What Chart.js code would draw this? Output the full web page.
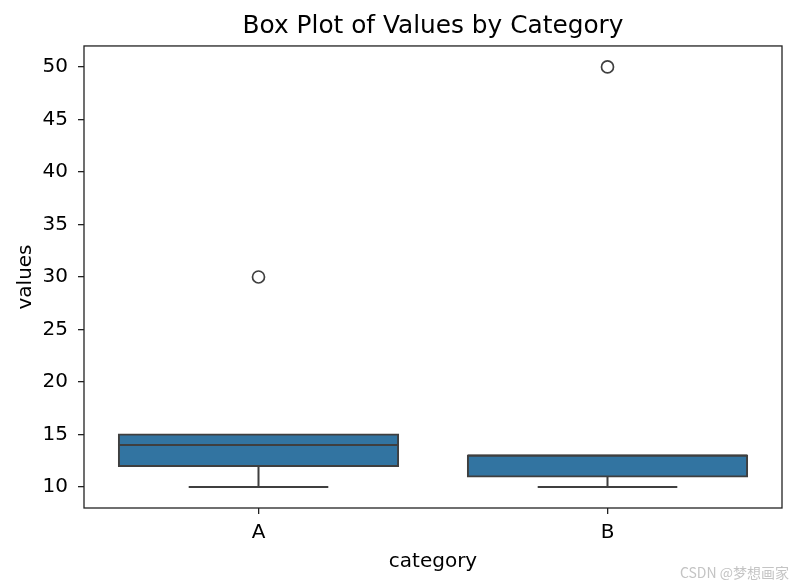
<!DOCTYPE html>
<html>
<head>
<meta charset="utf-8">
<script src="https://cdn.jsdelivr.net/npm/chart.js@4.4.0/dist/chart.umd.min.js"></script>
<style>
  body { margin: 0; background: #fff; }
  #wrap { position: relative; width: 796px; height: 586px; }
  #mark { position: absolute; right: 7px; top: 562px; font: 14px "Noto Sans CJK SC", sans-serif; color: #c4c4c4; }
</style>
</head>
<body>
<div id="wrap">
  <canvas id="boxChart" width="796" height="586"></canvas>
  <div id="mark">CSDN @梦想画家</div>
</div>
<script>
// box plot summary per category
const categories = ['A', 'B'];
const q1 = [12, 11];
const q3 = [15, 13];
const medians = [14, 13];
const whiskerLow = [10, 10];
const whiskerHigh = [15, 13];
const outliers = [{ x: 'A', y: 30 }, { x: 'B', y: 50 }];
const yTicks = [10, 15, 20, 25, 30, 35, 40, 45, 50];

const lineColor = '#3f3f3f';
const axisColor = '#222';
const fontFamily = '"DejaVu Sans", sans-serif';

// whiskers, caps and median lines, placed through the chart scales
const boxLines = {
    id: 'boxLines',
    afterDatasetsDraw(chart) {
        const ctx = chart.ctx;
        const xs = chart.scales.x;
        const ys = chart.scales.y;
        const bars = chart.getDatasetMeta(0).data;
        ctx.save();
        ctx.strokeStyle = lineColor;
        ctx.lineWidth = 2;
        categories.forEach(function(c, i) {
            const cx = xs.getPixelForValue(i);
            const half = bars[i].width / 2;
            const capHalf = half / 2;
            ctx.beginPath();
            // lower whisker
            ctx.moveTo(cx, ys.getPixelForValue(q1[i]));
            ctx.lineTo(cx, ys.getPixelForValue(whiskerLow[i]));
            ctx.moveTo(cx - capHalf, ys.getPixelForValue(whiskerLow[i]));
            ctx.lineTo(cx + capHalf, ys.getPixelForValue(whiskerLow[i]));
            // upper whisker
            if (whiskerHigh[i] > q3[i]) {
                ctx.moveTo(cx, ys.getPixelForValue(q3[i]));
                ctx.lineTo(cx, ys.getPixelForValue(whiskerHigh[i]));
                ctx.moveTo(cx - capHalf, ys.getPixelForValue(whiskerHigh[i]));
                ctx.lineTo(cx + capHalf, ys.getPixelForValue(whiskerHigh[i]));
            }
            // median
            ctx.moveTo(cx - half, ys.getPixelForValue(medians[i]));
            ctx.lineTo(cx + half, ys.getPixelForValue(medians[i]));
            ctx.stroke();
        });
        ctx.restore();
    },
    afterDraw(chart) {
        const a = chart.chartArea;
        const ctx = chart.ctx;
        ctx.save();
        ctx.strokeStyle = axisColor;
        ctx.lineWidth = 1.3;
        ctx.strokeRect(a.left, a.top, a.right - a.left, a.bottom - a.top);
        ctx.restore();
    }
};

const ctx = document.getElementById('boxChart').getContext('2d');
new Chart(ctx, {
    type: 'bar',
    data: {
        labels: categories,
        datasets: [{
            data: categories.map(function(c, i) { return [q1[i], q3[i]]; }),
            backgroundColor: '#3274a1',
            borderColor: lineColor,
            borderWidth: 2,
            borderSkipped: false,
            inflateAmount: 1,
            barPercentage: 0.8,
            categoryPercentage: 1.0
        }, {
            type: 'line',
            data: outliers,
            showLine: false,
            pointRadius: 6,
            pointBorderWidth: 1.7,
            pointBackgroundColor: 'rgba(0,0,0,0)',
            pointBorderColor: lineColor
        }]
    },
    options: {
        responsive: false,
        animation: false,
        layout: { padding: { left: 0, right: 14, top: 0, bottom: 0 } },
        plugins: {
            legend: { display: false },
            tooltip: { enabled: false },
            title: {
                display: true,
                fullSize: false,
                text: 'Box Plot of Values by Category',
                color: '#000',
                font: { family: fontFamily, size: 24.8, weight: 'normal' },
                padding: { top: 11.6, bottom: 4.6 }
            }
        },
        scales: {
            x: {
                afterFit: function(s) { s.height = 78; },
                border: { display: false },
                grid: { drawOnChartArea: false, drawTicks: true, tickLength: 6, color: axisColor, offset: false, lineWidth: 1.3 },
                ticks: { color: '#000', padding: 7, font: { family: fontFamily, size: 20 } },
                title: {
                    display: true,
                    text: 'category',
                    color: '#000',
                    font: { family: fontFamily, size: 20 },
                    padding: { top: 0, bottom: 12 }
                }
            },
            y: {
                min: 8,
                max: 52,
                afterFit: function(s) { s.width = 84; },
                afterBuildTicks: function(s) { s.ticks = yTicks.map(function(v) { return { value: v }; }); },
                border: { display: false },
                grid: { drawOnChartArea: false, drawTicks: true, tickLength: 6, color: axisColor, lineWidth: 1.3 },
                ticks: { color: '#000', padding: 10, font: { family: fontFamily, size: 20 } },
                title: {
                    display: true,
                    text: 'values',
                    color: '#000',
                    font: { family: fontFamily, size: 20 },
                    padding: { top: 14, bottom: 0 }
                }
            }
        }
    },
    plugins: [boxLines]
});
</script>
</body>
</html>
